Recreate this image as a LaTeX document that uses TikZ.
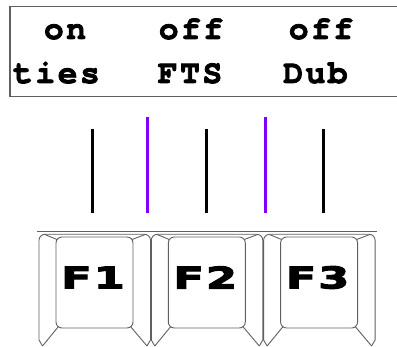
\documentclass[tikz,border=0pt]{standalone}
\usepackage{fontspec}
\newfontfamily\lcdfont[LetterSpace=7.5,Ligatures={NoCommon},FakeBold=2.4]{TeX Gyre Cursor}
\newfontfamily\keyfont[FakeStretch=1.5,FakeBold=3.5,LetterSpace=6]{DejaVu Sans}
\definecolor{violetline}{RGB}{128,0,255}
\definecolor{keygray}{RGB}{96,96,96}
\tikzset{
  lcd/.style={anchor=base,inner sep=0pt,font=\lcdfont\bfseries\fontsize{33}{33}\selectfont},
  keylabel/.style={anchor=center,inner sep=0pt,font=\keyfont\bfseries\fontsize{30}{30}\selectfont},
  keyline/.style={draw=keygray,line width=0.9pt},
  blackbar/.style={draw=black,line width=3pt},
  violetbar/.style={draw=violetline,line width=3pt},
  panel/.style={draw=keygray,line width=1.3pt}
}
\newcommand\keycap[3]{%
  \begin{scope}[xshift=#1pt]
    \draw[keyline] (42.5,346) -- (39,340) [rounded corners=6] -- (39,234.3) -- (150.5,234.3) [sharp corners] -- (150.5,340) -- (147,346);
    \draw[keyline,rounded corners=6] (56,237) rectangle (133,328);
    \draw[keyline] (45,234.6) -- (57,239.5);
    \draw[keyline] (132,239.5) -- (145,234.6);
    \draw[keyline] (58.5,326.5) -- (42.5,346);
    \draw[keyline] (130.5,326.5) -- (147,346);
    \node[keylabel] (#2) at (93,277.5) {#3};
  \end{scope}}
\begin{document}
\begin{tikzpicture}[x=1pt,y=-1pt]
\useasboundingbox (0,0) rectangle (397,347);
\begin{scope}
\clip (0,0) rectangle (397,347);
\draw[panel] (10,6.5) rectangle (420,96.5);
\end{scope}
\node[lcd] (on)   at (65,39) {on};
\node[lcd] (off1) at (191,39) {off};
\node[lcd] (off2) at (321,39) {off};
\node[lcd] (ties) at (56.5,83) {ties};
\node[lcd] (fts)  at (190,83) {FTS};
\node[lcd] (dub)  at (315.5,83) {Dub};
% bars
\coordinate (b1t) at (92.3,129);   \coordinate (b1b) at (92.3,212.7);
\coordinate (v1t) at (147.7,116.7); \coordinate (v1b) at (147.7,212.7);
\coordinate (b2t) at (206.7,129);  \coordinate (b2b) at (206.7,212.7);
\coordinate (v2t) at (265,116.7);  \coordinate (v2b) at (265,212.7);
\coordinate (b3t) at (323.3,129);  \coordinate (b3b) at (323.3,212.7);
\draw[blackbar] (b1t) -- (b1b);
\draw[violetbar] (v1t) -- (v1b);
\draw[blackbar] (b2t) -- (b2b);
\draw[violetbar] (v2t) -- (v2b);
\draw[blackbar] (b3t) -- (b3b);
% keyboard
\draw[keyline,line width=1.2pt] (37,231.5) -- (377,231.5);
\keycap{0}{f1}{F1}
\keycap{112.3}{f2}{F2}
\keycap{224.6}{f3}{F3}
\end{tikzpicture}
\end{document}
